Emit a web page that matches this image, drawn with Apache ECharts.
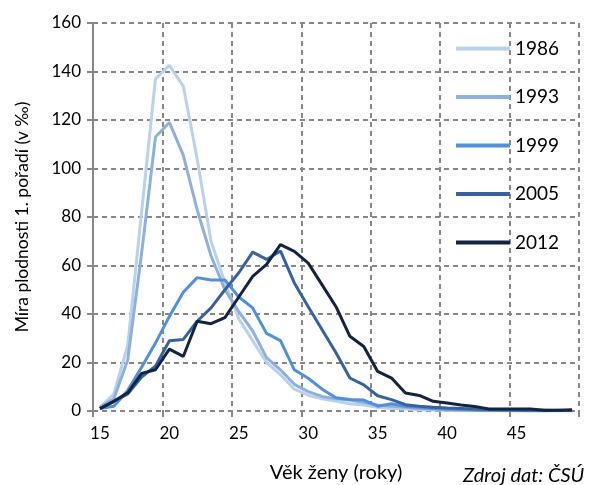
<!DOCTYPE html>
<html>
<head>
<meta charset="utf-8">
<script src="https://cdn.jsdelivr.net/npm/echarts@6/dist/echarts.min.js"></script>
<style>
  html, body { margin: 0; padding: 0; background: #fff; }
  #chart { width: 595px; height: 485px; }
</style>
</head>
<body>
<div id="chart"></div>
<script>
// Age categories 15..49
const ages = ['15', '16', '17', '18', '19', '20', '21', '22', '23', '24', '25', '26', '27', '28', '29',
  '30', '31', '32', '33', '34', '35', '36', '37', '38', '39', '40', '41', '42', '43', '44', '45',
  '46', '47', '48', '49'];

const years = ['1986', '1993', '1999', '2005', '2012'];

const rate1986 = [1.5, 7, 27, 82, 137, 142.5, 134, 104, 70, 53, 38, 29, 20, 15, 9, 6.5, 5, 4, 3, 2.5,
  1.5, 1, 0.8, 0.5, 0.4, 0.3, 0.2, 0.2, 0.1, 0.1, 0.1, 0.1, 0.1, 0.1, 0.1];
const rate1993 = [1.5, 5, 21, 65, 113, 119, 105.5, 83, 64, 50, 41, 33, 22, 17, 11, 8, 6, 5, 4.5, 3.5,
  2.5, 2, 1.5, 1, 0.8, 0.5, 0.4, 0.3, 0.2, 0.2, 0.1, 0.1, 0.1, 0.1, 0.1];
const rate1999 = [1, 2, 8.5, 18, 28, 39, 49, 55, 54, 54, 47, 42.5, 32, 29, 17, 13.5, 9, 5.5, 4.7, 4.5,
  2, 3, 2, 1.5, 1, 0.8, 0.6, 0.4, 0.3, 0.2, 0.2, 0.1, 0.1, 0.3, 0.1];
const rate2005 = [1, 4, 7, 14, 18.5, 29, 29.5, 37, 42.5, 50, 57, 65.5, 62.5, 66, 52.8, 43, 33.5, 24,
  13.6, 10.8, 6.3, 4.7, 2.6, 2, 1.5, 1.2, 1, 0.8, 0.6, 0.5, 0.4, 0.3, 0.3, 0.2, 0.2];
const rate2012 = [1, 4, 7.5, 15.5, 17, 25.5, 22.5, 37, 36, 38.5, 47, 55.5, 60.5, 68.6, 65.8, 61, 52,
  43, 30.8, 26.6, 16.3, 13.6, 7.4, 6.4, 4, 3.3, 2.5, 1.9, 0.8, 0.8, 0.8, 0.8, 0.3, 0.3, 0.5];

const seriesData = [rate1986, rate1993, rate1999, rate2005, rate2012];
const colors = ['#bad1ea', '#8fb0db', '#5390dc', '#37629c', '#13243f'];

const font = 'Lato, "Open Sans", sans-serif';
const gridColor = '#878787';

const chart = echarts.init(document.getElementById('chart'));

chart.setOption({
  animation: false,
  color: colors,
  textStyle: { fontFamily: font },
  grid: {
    left: 93,
    right: 16,
    top: 23,
    bottom: 74,
    containLabel: false,
    outerBoundsMode: 'none'
  },
  legend: {
    data: years,
    orient: 'vertical',
    left: 451,
    top: 34,
    icon: 'rect',
    itemWidth: 54,
    itemHeight: 4,
    itemGap: 29.5,
    textStyle: { fontSize: 19, color: '#000', fontFamily: font }
  },
  xAxis: {
    type: 'category',
    data: ages,
    boundaryGap: true,
    name: 'Věk ženy (roky)',
    nameLocation: 'middle',
    nameGap: 52,
    nameTextStyle: { fontSize: 20, color: '#000', fontFamily: font },
    axisLine: { show: false },
    axisTick: {
      show: true,
      interval: 4,
      length: 6,
      lineStyle: { color: gridColor, width: 2 }
    },
    axisLabel: {
      interval: 4,
      fontSize: 17,
      color: '#000',
      margin: 14,
      fontFamily: font
    },
    splitLine: {
      show: true,
      interval: 4,
      lineStyle: { color: gridColor, width: 2, type: [5, 4] }
    }
  },
  yAxis: {
    type: 'value',
    min: 0,
    max: 160,
    interval: 20,
    name: 'Míra plodnosti 1. pořadí (v ‰)',
    nameLocation: 'middle',
    nameRotate: 90,
    nameGap: 62,
    nameTextStyle: { fontSize: 17.5, color: '#000', fontFamily: font },
    axisLine: { show: true, lineStyle: { color: gridColor, width: 2 } },
    axisTick: { show: true, length: 6, lineStyle: { color: gridColor, width: 2 } },
    axisLabel: { fontSize: 17, color: '#000', margin: 12, fontFamily: font },
    splitLine: {
      show: true,
      lineStyle: { color: gridColor, width: 2, type: [5, 4] }
    }
  },
  graphic: [
    {
      type: 'text',
      left: 463,
      top: 466,
      style: {
        text: 'Zdroj dat: ČSÚ',
        fill: '#000',
        font: 'italic 20px ' + font
      }
    }
  ],
  series: years.map((y, i) => ({
    name: y,
    type: 'line',
    data: seriesData[i],
    showSymbol: false,
    symbol: 'none',
    lineStyle: { width: 3, color: colors[i] },
    itemStyle: { color: colors[i] }
  }))
});
</script>
</body>
</html>
